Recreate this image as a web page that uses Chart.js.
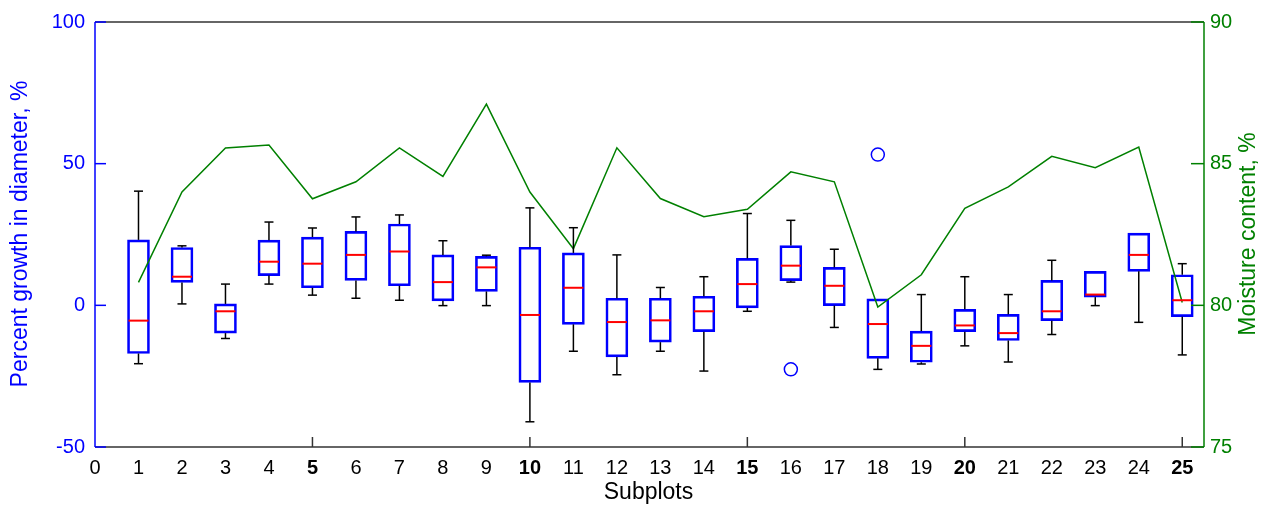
<!DOCTYPE html>
<html><head><meta charset="utf-8">
<script src="https://cdn.jsdelivr.net/npm/chart.js@4.4.1/dist/chart.umd.min.js"></script>
<style>html,body{margin:0;padding:0;background:#fff;}</style>
</head><body>
<canvas id="c" width="1273" height="508" style="display:block;width:1273px;height:508px"></canvas>
<script>
// ---- data ----
const subplots = [1,2,3,4,5,6,7,8,9,10,11,12,13,14,15,16,17,18,19,20,21,22,23,24,25];
const q1      = [-17, 8.1, -9.8, 10.5, 6.2, 8.8, 6.9, 1.6, 4.9, -27.2, -6.7, -18.2, -13, -9.3, -0.9, 8.7, -0.1, -18.7, -20.1, -9.3, -12.4, -5.4, 2.9, 12, -4];
const medians = [-5.4, 10.1, -2.1, 15.4, 14.7, 17.8, 19, 8.2, 13.4, -3.4, 6.2, -5.9, -5.3, -2.1, 7.5, 14, 6.9, -6.6, -14.3, -7.1, -9.8, -2.1, 3.8, 17.8, 1.8];
const q3      = [23.1, 20.4, 0.5, 23, 24.1, 26.1, 28.7, 17.8, 17.3, 20.5, 18.5, 2.5, 2.5, 3.2, 16.6, 21.1, 13.4, 2.3, -9.1, -1.4, -3.2, 8.8, 12, 25.5, 10.8];
const whiskerHigh = [40.3, 21, 7.5, 29.4, 27.3, 31.2, 31.9, 22.8, 17.7, 34.4, 27.4, 17.8, 6.3, 10.1, 32.4, 30, 19.8, 2.3, 3.8, 10.1, 3.8, 15.9, 12, 25.5, 14.7];
const whiskerLow  = [-20.6, 0.5, -11.7, 7.5, 3.6, 2.5, 1.8, -0.1, -0.1, -41.1, -16.2, -24.5, -16.2, -23.2, -2.1, 8.2, -7.8, -22.6, -20.7, -14.3, -20, -10.3, -0.1, -6, -17.5];
const outlierX = [16, 18];
const outlierY = [-22.6, 53.2];
const moisture = [80.81, 84.0, 85.55, 85.66, 83.76, 84.36, 85.56, 84.55, 87.1, 84.0, 82.0, 85.56, 83.77, 83.13, 83.39, 84.71, 84.36, 79.94, 81.08, 83.42, 84.18, 85.26, 84.86, 85.59, 80.1];
const growthTicks = [-50, 0, 50, 100];
const moistureTicks = [75, 80, 85, 90];
const xMajorTicks = [5, 10, 15, 20, 25];
const leftTitle = 'Percent growth in diameter, %';
const rightTitle = 'Moisture content, %';
const xTitle = 'Subplots';

const BLUE = '#0000ff', GREEN = '#008000', RED = '#ff0000', DARK = '#333333';
const FONT = '"Liberation Sans", Arial, Helvetica, sans-serif';

const extras = {
  id: 'extras',
  afterDatasetsDraw(chart) {
    const {ctx, scales: {x, y}} = chart;
    const boxHalf = 11, capHalf = 4.5;
    ctx.save();
    ctx.lineWidth = 1.5;
    ctx.strokeStyle = '#000';
    const seg = (x1, y1, x2, y2) => { ctx.beginPath(); ctx.moveTo(x1, y1); ctx.lineTo(x2, y2); ctx.stroke(); };
    subplots.forEach((s, i) => {
      const px = x.getPixelForValue(s);
      if (whiskerHigh[i] > q3[i]) {
        const yt = y.getPixelForValue(whiskerHigh[i]);
        seg(px, y.getPixelForValue(q3[i]), px, yt);
        seg(px - capHalf, yt, px + capHalf, yt);
      }
      if (whiskerLow[i] < q1[i]) {
        const yb = y.getPixelForValue(whiskerLow[i]);
        seg(px, y.getPixelForValue(q1[i]), px, yb);
        seg(px - capHalf, yb, px + capHalf, yb);
      }
    });
    ctx.strokeStyle = RED;
    ctx.lineWidth = 2;
    subplots.forEach((s, i) => {
      const px = x.getPixelForValue(s);
      const ym = y.getPixelForValue(medians[i]);
      seg(px - boxHalf + 1, ym, px + boxHalf - 1, ym);
    });
    ctx.restore();
  },
  afterDraw(chart) {
    const {ctx, scales: {x, y, y2}, chartArea: ca} = chart;
    ctx.save();
    ctx.lineWidth = 1.5;
    const seg = (c, x1, y1, x2, y2_) => { ctx.strokeStyle = c; ctx.beginPath(); ctx.moveTo(x1, y1); ctx.lineTo(x2, y2_); ctx.stroke(); };
    // frame
    seg(DARK, ca.left, ca.top, ca.right, ca.top);
    seg(DARK, ca.left, ca.bottom, ca.right, ca.bottom);
    // x ticks
    xMajorTicks.forEach(v => { const px = x.getPixelForValue(v); seg(DARK, px, ca.bottom, px, ca.bottom - 10); });
    // left axis
    seg(BLUE, ca.left, ca.top, ca.left, ca.bottom);
    growthTicks.forEach(v => { const py = y.getPixelForValue(v); seg(BLUE, ca.left, py, ca.left + 11, py); });
    // right axis
    seg(GREEN, ca.right, ca.top, ca.right, ca.bottom);
    moistureTicks.forEach(v => { const py = y2.getPixelForValue(v); seg(GREEN, ca.right, py, ca.right - 13, py); });
    // titles
    ctx.font = '23px ' + FONT;
    ctx.textAlign = 'center';
    ctx.textBaseline = 'middle';
    ctx.fillStyle = BLUE;
    ctx.save(); ctx.translate(21, 234); ctx.rotate(-Math.PI / 2); ctx.fillText(leftTitle, 0, 0); ctx.restore();
    ctx.fillStyle = GREEN;
    ctx.save(); ctx.translate(1249, 234); ctx.rotate(-Math.PI / 2); ctx.fillText(rightTitle, 0, 0); ctx.restore();
    ctx.fillStyle = '#000';
    ctx.fillText(xTitle, (ca.left + ca.right) / 2 - 1, 493);
    ctx.restore();
  }
};

new Chart(document.getElementById('c'), {
  type: 'bar',
  data: {
    datasets: [
      {
        type: 'line', label: 'Moisture', yAxisID: 'y2',
        data: subplots.map((s, i) => ({x: s, y: moisture[i]})),
        borderColor: GREEN, borderWidth: 1.5, pointRadius: 0, tension: 0, fill: false, order: 0
      },
      {
        type: 'bar', label: 'Growth', yAxisID: 'y',
        data: subplots.map((s, i) => ({x: s, y: [q1[i], q3[i]]})),
        borderColor: BLUE, borderWidth: 2, backgroundColor: 'rgba(0,0,0,0)',
        borderSkipped: false, barThickness: 22, order: 1
      },
      {
        type: 'scatter', label: 'Outliers', yAxisID: 'y',
        data: outlierX.map((v, i) => ({x: v, y: outlierY[i]})),
        borderColor: BLUE, borderWidth: 1.5, backgroundColor: 'rgba(0,0,0,0)',
        pointRadius: 6.5, pointStyle: 'circle', showLine: false, order: 2
      }
    ]
  },
  options: {
    responsive: false, animation: false,
    layout: {padding: {top: 20, left: 0, right: 0, bottom: 0}},
    plugins: {legend: {display: false}, tooltip: {enabled: false}, title: {display: false}},
    scales: {
      x: {
        type: 'linear', min: 0, max: 25.5, offset: false,
        grid: {display: false, drawTicks: false}, border: {display: false},
        ticks: {
          stepSize: 1, includeBounds: false, autoSkip: false, maxRotation: 0, padding: 9, color: '#000',
          callback: v => (Number.isInteger(v) && v <= 25) ? String(v) : '',
          font: ctx => ({family: FONT, size: 20, weight: (ctx.tick && ctx.tick.value > 0 && ctx.tick.value % 5 === 0) ? 'bold' : 'normal'})
        },
        afterFit: s => { s.height = 61; }
      },
      y: {
        position: 'left', min: -50, max: 100,
        grid: {display: false, drawTicks: false}, border: {display: false},
        ticks: {stepSize: 50, color: BLUE, padding: 10, font: {family: FONT, size: 20}},
        afterFit: s => { s.width = 95; }
      },
      y2: {
        position: 'right', min: 75, max: 90,
        grid: {display: false, drawTicks: false}, border: {display: false},
        ticks: {stepSize: 5, color: GREEN, padding: 6, font: {family: FONT, size: 20}},
        afterFit: s => { s.width = 69; }
      }
    }
  },
  plugins: [extras]
});
</script>
</body></html>
